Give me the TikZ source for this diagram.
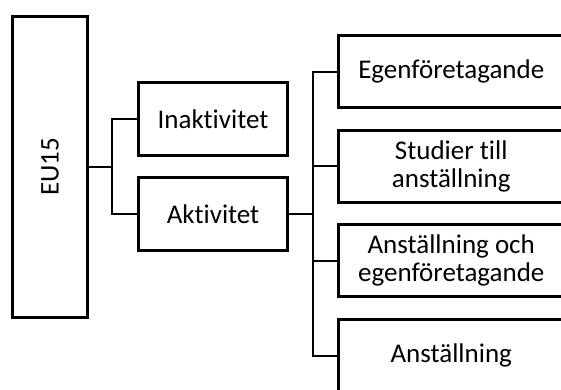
\documentclass[tikz,border=0pt]{standalone}
\usepackage{fontspec}
\setmainfont{Carlito}[Ligatures=NoCommon]
\begin{document}
\begin{tikzpicture}[x=1pt, y=-1pt,
    box/.style = {draw, line width=3pt, rectangle, inner sep=0pt, align=center,
                  font=\fontsize{27}{28}\selectfont},
    small/.style = {box, minimum width=149pt, minimum height=73pt},
    wide/.style = {box, minimum width=225.5pt, minimum height=72pt},
    conn/.style = {draw, line width=2pt}]
    \clip (0,0) rectangle (561,389);

    % Nivel 1
    \node[box, minimum width=75pt, minimum height=301pt,
          label={[rotate=90, font=\fontsize{27}{28}\selectfont]center:EU15}] (eu) at (50,167) {};

    % Nivel 2
    \node[small] (inakt) at (213,119) {Inaktivitet};
    \node[small] (akt) at (213,214) {Aktivitet};

    % Nivel 3
    \node[wide] (egen) at (451.25,71.5) {Egenföretagande};
    \node[wide] (stud) at (451.25,166) {Studier till\\anställning};
    \node[wide] (anstoch) at (451.25,260.5) {Anställning och\\egenföretagande};
    \node[wide] (anst) at (451.25,355.5) {Anställning};

    % Conexiones
    \coordinate (j1) at (112,167);
    \coordinate (j2) at (313,214);
    \draw[conn] (eu.east) -- (j1);
    \draw[conn] (inakt.west) -| (j1);
    \draw[conn] (akt.west) -| (j1);
    \draw[conn] (akt.east) -- (j2);
    \draw[conn] (egen.west) -| (j2);
    \draw[conn] (stud.west) -| (j2);
    \draw[conn] (anstoch.west) -| (j2);
    \draw[conn] (anst.west) -| (j2);
\end{tikzpicture}
\end{document}
